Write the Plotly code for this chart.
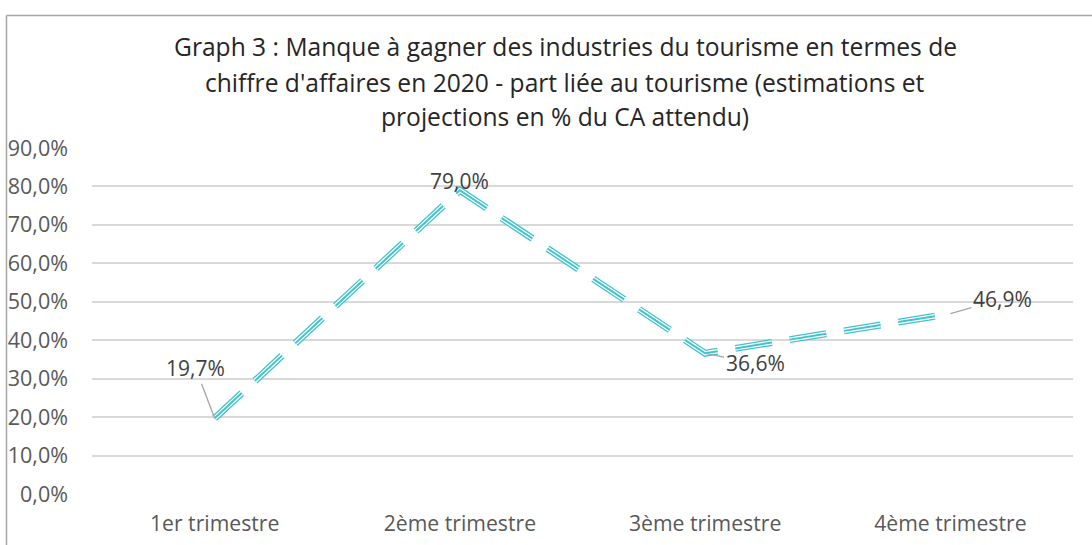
import plotly.graph_objects as go

categories = ["1er trimestre", "2ème trimestre", "3ème trimestre", "4ème trimestre"]
values = [0.197, 0.790, 0.366, 0.469]
title_lines = [
    "Graph 3 : Manque à gagner des industries du tourisme en termes de",
    "chiffre d'affaires en 2020 - part liée au tourisme (estimations et",
    "projections en % du CA attendu)",
]
label_offsets = [(-19, -50), (0, -9), (50, 10), (52, -15)]

W, H = 1092, 545
L, R, T, B = 92, 19, 148, 51
pw, ph = W - L - R, H - T - B

teal = "#42C3CC"
dash = "37px,18px"
font = "Open Sans"

fig = go.Figure()
for width, color in [(7, teal), (4.4, "white"), (2, teal)]:
    fig.add_trace(go.Scatter(
        x=categories, y=values, mode="lines",
        line=dict(color=color, width=width, dash=dash),
        hoverinfo="skip", showlegend=False,
    ))

annotations = []
for i, (c, v) in enumerate(zip(categories, values)):
    ax, ay = label_offsets[i]
    annotations.append(dict(
        x=c, y=v, xref="x", yref="y",
        text=f"{v*100:.1f}%".replace(".", ","),
        showarrow=(i != 1), arrowhead=0, arrowwidth=1.3, arrowcolor="#A6A6A6",
        ax=ax, ay=ay, standoff=0, startstandoff=0,
        yshift=(9 if i == 1 else 0),
        font=dict(family=font, size=21, color="#404040"),
    ))

title_y = [47, 82, 117]
for line, yp in zip(title_lines, title_y):
    annotations.append(dict(
        x=(565 - L) / pw, y=(H - B - yp) / ph, xref="paper", yref="paper",
        text=line, showarrow=False, xanchor="center", yanchor="middle",
        font=dict(family=font, size=24.6, color="#262626"),
    ))

shapes = [
    dict(type="line", xref="paper", yref="paper",
         x0=(6.5 - L) / pw, x1=(6.5 - L) / pw,
         y0=(H - B - 15.5) / ph, y1=(H - B - 600) / ph,
         line=dict(color="#A6A6A6", width=1.5)),
    dict(type="line", xref="paper", yref="paper",
         x0=(6.5 - L) / pw, x1=(1200 - L) / pw,
         y0=(H - B - 15.5) / ph, y1=(H - B - 15.5) / ph,
         line=dict(color="#A6A6A6", width=1.5)),
]

fig.update_layout(
    width=W, height=H,
    margin=dict(l=L, r=R, t=T, b=B, autoexpand=False),
    paper_bgcolor="white", plot_bgcolor="white",
    separators=", ",
    showlegend=False,
    annotations=annotations,
    shapes=shapes,
    xaxis=dict(
        type="category", range=[-0.5, 3.5], automargin=False,
        showgrid=False, showline=False, zeroline=False,
        ticks="", ticklabelstandoff=15,
        tickfont=dict(family=font, size=21.2, color="#595959"),
    ),
    yaxis=dict(
        range=[0, 0.9], dtick=0.1, tickformat=".1%", automargin=False,
        showgrid=True, gridcolor="#D9D9D9", gridwidth=1.5,
        zeroline=False, showline=False, ticks="",
        ticklabelstandoff=23,
        tickfont=dict(family=font, size=21.5, color="#595959"),
    ),
)

fig.write_html("out.html")
